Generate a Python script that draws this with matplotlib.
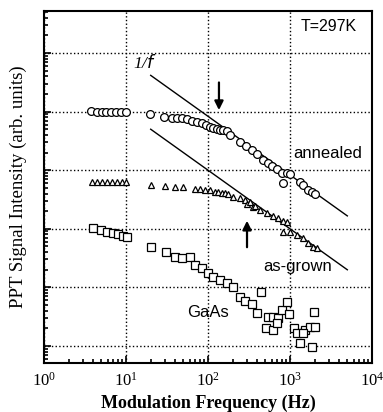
import matplotlib
matplotlib.use("Agg")
import matplotlib.pyplot as plt
from matplotlib.ticker import LogLocator, NullFormatter

plt.rcParams['font.family'] = ['Liberation Serif', 'DejaVu Serif']
plt.rcParams['mathtext.fontset'] = 'custom'
plt.rcParams['mathtext.rm'] = 'Liberation Serif'

# annealed sample (circles)
annealed_f = [3.7, 4.4, 5.1, 5.7, 6.6, 7.6, 8.7, 10, 19.6, 29, 36, 42, 48, 55, 64, 73,
              85, 95, 106, 115, 129, 140, 152, 171, 185, 246, 291, 344, 396, 469, 540,
              603, 694, 798, 919, 822, 1000, 1320, 1440, 1660, 1850, 2020]
annealed_I = [10200, 10000, 9900, 10000, 9800, 9900, 9800, 9700, 9100, 8100, 7800, 7800,
              7700, 7500, 6900, 6650, 6400, 5900, 5450, 5250, 5050, 4850, 4850, 4650, 4000,
              3030, 2590, 2210, 1890, 1490, 1330, 1180, 1050, 896, 896, 605, 850, 629, 558,
              459, 425, 393]

# as-grown sample (triangles)
asgrown_f = [3.85, 4.4, 5.1, 5.9, 6.75, 7.8, 8.9, 10, 20, 30, 40, 50, 69, 80, 92, 106,
             122, 132, 148, 161, 175, 202, 246, 283, 299, 325, 355, 374, 431, 525, 621,
             714, 822, 919, 822, 1000, 1220, 1440, 1660, 1900, 2130]
asgrown_I = [640, 630, 629, 635, 625, 630, 620, 625, 559, 537, 517, 517, 478, 478, 459, 459,
             425, 425, 408, 408, 393, 349, 335, 310, 265, 287, 236, 245, 209, 186, 165,
             153, 136, 131, 88, 88, 78, 70, 57, 49, 47]

# GaAs (squares)
gaas_f = [3.96, 4.96, 5.87, 6.94, 8.0, 9.2, 10.2, 20.2, 30.7, 39.6, 48.2, 60.3, 69.4,
          84.5, 100, 115, 140, 171, 202, 246, 283, 344, 396, 443, 540, 621, 714, 798,
          919, 972, 510, 621, 694, 1120, 1220, 1320, 1520, 1750, 2020, 1960, 1850, 1440]
gaas_I = [103, 95, 88, 85, 81, 75, 72, 49, 40, 33, 32, 33, 24, 21.4, 17.6, 15.0, 13.4,
          11.9, 10.2, 6.86, 5.86, 5.21, 3.66, 8.35, 3.13, 3.13, 3.0, 4.11, 5.63, 3.52,
          2.03, 1.88, 2.47, 2.03, 1.67, 1.12, 1.88, 2.11, 2.11, 3.80, 0.96, 1.67]

# 1/f guide lines
fit_f = [20, 5000]
anneal_fit = [41500, 166]
grown_fit = [5000, 20]

fig = plt.figure(figsize=(3.83, 4.12), dpi=100)
ax = fig.add_axes([0.1149, 0.1189, 0.8564, 0.8544])
ax.set_xscale('log')
ax.set_yscale('log')
ax.set_xlim(1, 1e4)
ax.set_ylim(0.513, 5.2e5)

ax.plot(annealed_f, annealed_I, 'o', mfc='white', mec='black', ms=5.6, mew=0.9, zorder=3)
ax.plot(asgrown_f, asgrown_I, '^', mfc='white', mec='black', ms=5.0, mew=0.9, zorder=3)
ax.plot(gaas_f, gaas_I, 's', mfc='white', mec='black', ms=5.6, mew=0.9, zorder=3)
ax.plot(fit_f, anneal_fit, '-', color='black', lw=1.0, zorder=2)
ax.plot(fit_f, grown_fit, '-', color='black', lw=1.0, zorder=2)

ax.grid(True, which='major', linestyle=':', color='black', lw=1.0)
ax.xaxis.set_major_locator(LogLocator(base=10, numticks=10))
ax.xaxis.set_minor_locator(LogLocator(base=10, subs=range(2, 10), numticks=20))
ax.yaxis.set_major_locator(LogLocator(base=10, numticks=10))
ax.yaxis.set_minor_locator(LogLocator(base=10, subs=range(2, 10), numticks=20))
ax.yaxis.set_major_formatter(NullFormatter())
ax.yaxis.set_minor_formatter(NullFormatter())
ax.tick_params(which='both', direction='in', top=False, right=False, width=1.2)
ax.tick_params(which='major', length=5, labelsize=12, pad=6)
ax.tick_params(which='minor', length=3)
for s in ax.spines.values():
    s.set_linewidth(1.5)

ax.set_xlabel('Modulation Frequency (Hz)', fontsize=13, fontweight='bold', labelpad=4)
ax.set_ylabel('PPT Signal Intensity (arb. units)', fontsize=13.5, labelpad=6)

sans = ['Liberation Sans', 'DejaVu Sans']
ax.text(6500, 2.8e5, 'T=297K', family=sans, fontsize=11.5, ha='right', va='center')
ax.text(1090, 1960, 'annealed', family=sans, fontsize=12, ha='left', va='center')
ax.text(469, 23, 'as-grown', family=sans, fontsize=12, ha='left', va='center')
ax.text(55, 3.66, 'GaAs', family=sans, fontsize=12, ha='left', va='center')
ax.text(12.2, 6.7e4, '1/$\\it{f}$', fontsize=12.5, ha='left', va='center', style='italic')

ax.annotate('', xy=(136, 9500), xytext=(136, 3.5e4),
            arrowprops=dict(arrowstyle='-|>', color='black', lw=1.6, mutation_scale=13))
ax.annotate('', xy=(299, 153), xytext=(299, 43.5),
            arrowprops=dict(arrowstyle='-|>', color='black', lw=1.6, mutation_scale=13))

fig.savefig('out.png', dpi=100)
